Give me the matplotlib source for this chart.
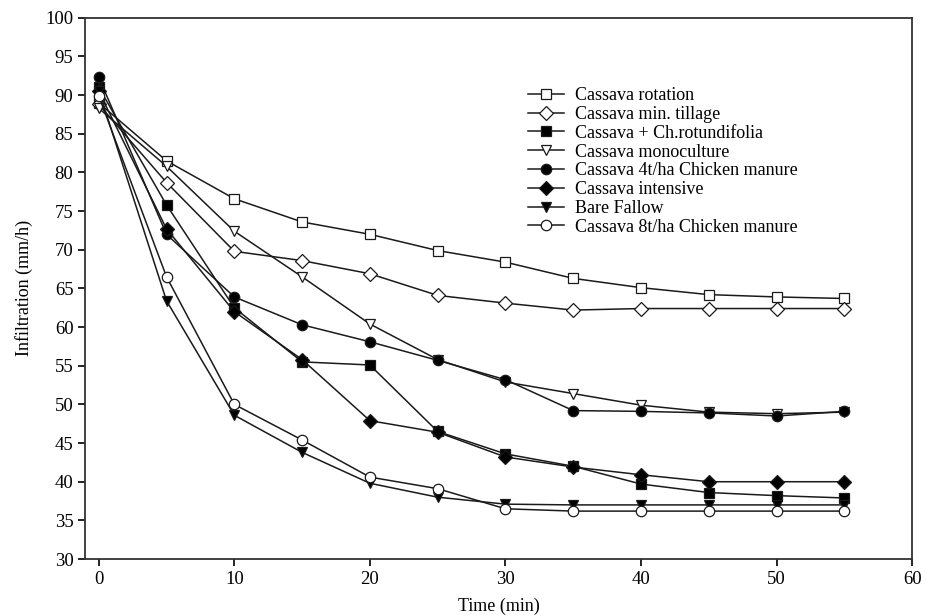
import numpy as np
import matplotlib.pyplot as plt

plt.rcParams['font.family'] = ['Liberation Serif', 'DejaVu Serif']

# ── Datos ────────────────────────────────────────────────────────────────
time = [0, 5, 10, 15, 20, 25, 30, 35, 40, 45, 50, 55]

rotation     = [89.0, 81.5, 76.6, 73.6, 72.0, 69.9, 68.4, 66.3, 65.1, 64.2, 63.9, 63.7]
min_tillage  = [88.8, 78.7, 69.8, 68.6, 66.9, 64.1, 63.1, 62.2, 62.4, 62.4, 62.4, 62.4]
rotundifolia = [91.0, 75.8, 62.5, 55.5, 55.1, 46.5, 43.6, 42.0, 39.7, 38.6, 38.2, 37.9]
monoculture  = [88.3, 80.8, 72.4, 66.5, 60.4, 55.8, 52.9, 51.4, 49.9, 49.0, 48.8, 49.0]
manure_4t    = [92.3, 72.0, 63.9, 60.3, 58.1, 55.7, 53.2, 49.2, 49.1, 48.9, 48.5, 49.1]
intensive    = [90.5, 72.7, 62.0, 55.8, 47.9, 46.4, 43.2, 41.9, 40.9, 40.0, 40.0, 40.0]
bare_fallow  = [90.6, 63.4, 48.6, 43.8, 39.8, 38.0, 37.1, 37.0, 37.0, 37.0, 37.0, 37.0]
manure_8t    = [89.9, 66.5, 50.0, 45.4, 40.6, 39.1, 36.5, 36.2, 36.2, 36.2, 36.2, 36.2]

series = [
    (rotation,     'Cassava rotation',             's', 'white'),
    (min_tillage,  'Cassava min. tillage',         'D', 'white'),
    (rotundifolia, 'Cassava + Ch.rotundifolia',    's', 'black'),
    (monoculture,  'Cassava monoculture',          'v', 'white'),
    (manure_4t,    'Cassava 4t/ha Chicken manure', 'o', 'black'),
    (intensive,    'Cassava intensive',            'D', 'black'),
    (bare_fallow,  'Bare Fallow',                  'v', 'black'),
    (manure_8t,    'Cassava 8t/ha Chicken manure', 'o', 'white'),
]

# ── Gráfica ──────────────────────────────────────────────────────────────
fig = plt.figure(figsize=(9.26, 6.15), dpi=100)
ax = fig.add_axes([0.092, 0.091, 0.893, 0.880])

for vals, label, mk, face in series:
    ms = 7 if mk == 'D' else 7.5
    ax.plot(time, vals, color='#1a1a1a', linewidth=1.1, marker=mk,
            markersize=ms, markerfacecolor=face, markeredgecolor='#1a1a1a',
            markeredgewidth=0.9, label=label)

ax.set_xlim(-1, 60)
ax.set_ylim(30, 100)
ax.set_xticks(np.arange(0, 61, 10))
ax.set_yticks(np.arange(30, 101, 5))
ax.tick_params(direction='out', length=5, width=1.2, labelsize=13.5)
for sp in ax.spines.values():
    sp.set_linewidth(1.3)
    sp.set_color('#333333')

ax.set_xlabel('Time (min)', fontsize=13, labelpad=7)
ax.set_ylabel('Infiltration (mm/h)', fontsize=13, labelpad=9)

ax.legend(loc='upper left', bbox_to_anchor=(0.535, 0.872), frameon=False,
          fontsize=13, handlelength=2.0, labelspacing=0.1,
          handletextpad=0.6, borderaxespad=0, borderpad=0)

plt.savefig('out.png', dpi=100)
